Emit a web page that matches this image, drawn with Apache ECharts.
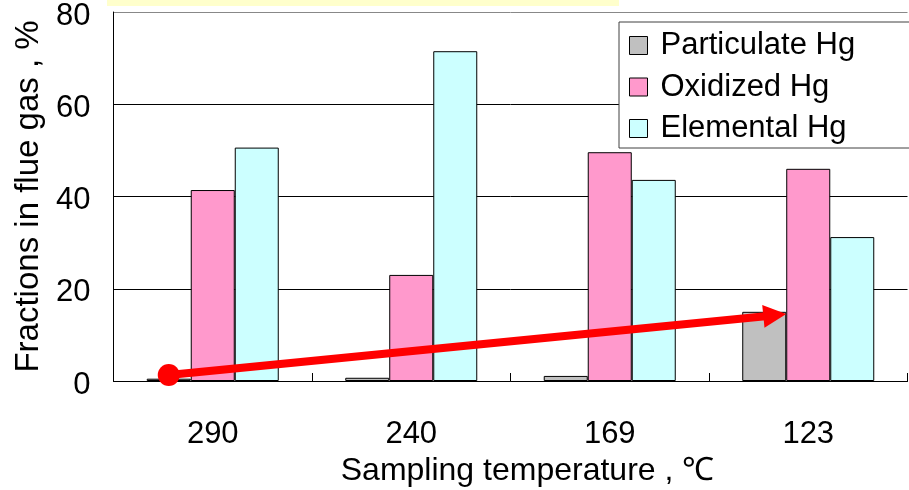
<!DOCTYPE html>
<html>
<head>
<meta charset="utf-8">
<script src="https://cdn.jsdelivr.net/npm/echarts@6/dist/echarts.min.js"></script>
<style>html,body{margin:0;padding:0;background:#fff;}#c{width:909px;height:490px;}</style>
</head>
<body>
<div id="c"></div>
<script>
var categories = ['290', '240', '169', '123'];
var particulate = [0.5, 0.7, 1.1, 15.0];
var oxidized = [41.4, 23.0, 49.6, 46.0];
var elemental = [50.6, 71.5, 43.6, 31.2];
var yTicks = [0, 20, 40, 60, 80];
var arrowStart = ['290', 1.3];
var arrowEnd = ['123', 14.5];

var FONT = 'Liberation Sans, Arial, sans-serif';
var GAP = 0.335;
var chart = echarts.init(document.getElementById('c'), null, {renderer: 'canvas'});

function barSeries(name, data, color) {
  return {
    name: name, type: 'bar', data: data,
    barGap: '0%', barCategoryGap: (GAP * 100) + '%',
    itemStyle: {color: color, borderColor: '#000', borderWidth: 1},
    animation: false
  };
}

chart.setOption({
  animation: false,
  textStyle: {fontFamily: FONT},
  grid: {left: 113.5, right: 1.5, top: 12, bottom: 109, containLabel: false, outerBoundsMode: 'none'},
  legend: {
    left: 619, top: 22, orient: 'vertical',
    padding: [8, 60, 4, 10],
    backgroundColor: '#fff', borderColor: '#404040', borderWidth: 1,
    icon: 'rect',
    itemWidth: 18, itemHeight: 18, itemGap: 10.5,
    textStyle: {fontSize: 31, color: '#000', fontFamily: FONT, lineHeight: 31, padding: [0, 0, 0, 8]},
    itemStyle: {borderColor: '#000', borderWidth: 1},
    data: ['Particulate Hg', 'Oxidized Hg', 'Elemental Hg']
  },
  xAxis: {
    type: 'category', data: categories,
    axisLine: {lineStyle: {color: '#000', width: 1}},
    axisTick: {show: true, inside: true, length: 8, lineStyle: {color: '#000'}},
    axisLabel: {fontSize: 31, color: '#000', margin: 38, fontFamily: FONT},
    name: 'Sampling temperature , \u2103', nameLocation: 'middle', nameGap: 72,
    nameTextStyle: {fontSize: 32, color: '#000', fontFamily: FONT, padding: [0, 0, 0, 34]}
  },
  yAxis: {
    type: 'value', min: 0, max: 80, interval: 20,
    axisLine: {show: true, lineStyle: {color: '#000', width: 1}},
    axisTick: {show: false},
    splitLine: {show: true, lineStyle: {color: ['#000', '#000', '#000', '#000', '#888'], width: 1}},
    axisLabel: {color: '#000', margin: 23, fontFamily: FONT,
      formatter: function (v) { return yTicks.indexOf(v) >= 0 ? '{g|}\n{t|' + v + '}' : ''; },
      rich: {
        g: {height: 8, lineHeight: 8, fontSize: 8},
        t: {fontSize: 31, lineHeight: 31, color: '#000', fontFamily: FONT}
      }},
    name: 'Fractions in flue gas , %', nameLocation: 'middle', nameGap: 54,
    nameTextStyle: {fontSize: 33, color: '#000', fontFamily: FONT}
  },
  series: [
    barSeries('Particulate Hg', particulate, '#c0c0c0'),
    barSeries('Oxidized Hg', oxidized, '#ff99cc'),
    barSeries('Elemental Hg', elemental, '#ccffff')
  ]
});

// annotation: red arrow, positioned through the axes
var c0 = chart.convertToPixel({gridIndex: 0}, [0, 0]);
var c1 = chart.convertToPixel({gridIndex: 0}, [1, 0]);
var catW = c1[0] - c0[0];
var barW = catW * (1 - GAP) / 3;
var sp = chart.convertToPixel({gridIndex: 0}, [categories.indexOf(arrowStart[0]), arrowStart[1]]);
var ep = chart.convertToPixel({gridIndex: 0}, [categories.indexOf(arrowEnd[0]), arrowEnd[1]]);
var sx = sp[0] - barW, sy = sp[1];
var ex = ep[0] - barW / 2, ey = ep[1];
var dx = ex - sx, dy = ey - sy, L = Math.sqrt(dx * dx + dy * dy);
var ux = dx / L, uy = dy / L, nx = -uy, ny = ux;
var headLen = 23, headHalf = 11.5;
var bx = ex - ux * headLen, by = ey - uy * headLen;

chart.setOption({
  graphic: [
    {type: 'rect', shape: {x: 107, y: 0, width: 512, height: 6}, style: {fill: '#ffffcc'}, z: 100},
    {type: 'line', shape: {x1: sx, y1: sy, x2: bx + ux * 2, y2: by + uy * 2},
      style: {stroke: '#ff0000', lineWidth: 8}, z: 100},
    {type: 'polygon', shape: {points: [[ex, ey], [bx + nx * headHalf, by + ny * headHalf], [bx - nx * headHalf, by - ny * headHalf]]},
      style: {fill: '#ff0000'}, z: 100},
    {type: 'circle', shape: {cx: sx, cy: sy, r: 11}, style: {fill: '#ff0000'}, z: 100}
  ]
});
</script>
</body>
</html>
